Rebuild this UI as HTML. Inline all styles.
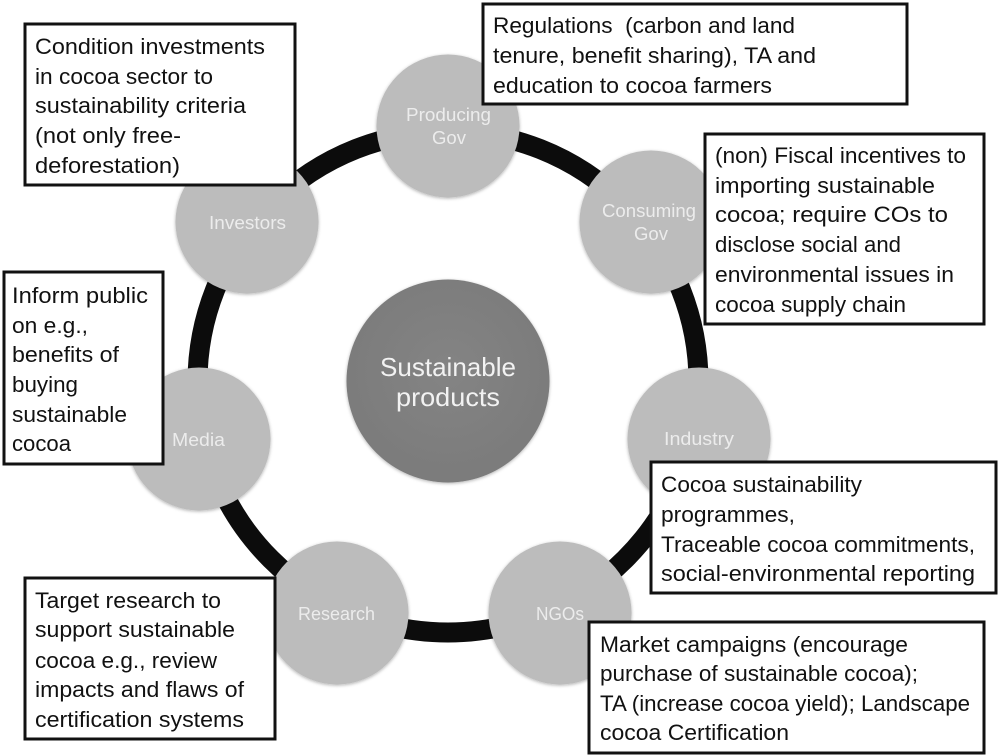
<!DOCTYPE html>
<html><head><meta charset="utf-8"><style>html,body{margin:0;padding:0;background:#fff}svg{display:block}text{font-family:"Liberation Sans",sans-serif}</style></head><body>
<svg width="1000" height="756" viewBox="0 0 1000 756" xmlns="http://www.w3.org/2000/svg">
<defs>
<filter id="s" x="-10%" y="-10%" width="120%" height="120%"><feDropShadow dx="0" dy="1" stdDeviation="1.5" flood-color="#000" flood-opacity=".3"/></filter>
<radialGradient id="g" cx="50%" cy="45%" r="55%"><stop offset="0" stop-color="#848484"/><stop offset="1" stop-color="#7b7b7b"/></radialGradient>
</defs>
<circle cx="448" cy="382" r="250.5" fill="none" stroke="#0c0c0c" stroke-width="20"/>
<g fill="#bcbcbc" filter="url(#s)">
<circle cx="448" cy="126" r="71.5"/><circle cx="651" cy="222" r="71.5"/><circle cx="699" cy="439" r="71.5"/><circle cx="560" cy="613" r="71.5"/><circle cx="337" cy="613" r="71.5"/><circle cx="199" cy="439" r="71.5"/><circle cx="247" cy="222" r="71.5"/>
</g>
<circle cx="448" cy="381" r="101.5" fill="url(#g)" filter="url(#s)"/>
<g fill="#ececec" font-size="18">
<text x="406" y="121" textLength="85" lengthAdjust="spacingAndGlyphs">Producing</text>
<text x="432" y="144" textLength="34" lengthAdjust="spacingAndGlyphs">Gov</text>
<text x="209" y="229" textLength="77" lengthAdjust="spacingAndGlyphs">Investors</text>
<text x="602" y="217" textLength="94" lengthAdjust="spacingAndGlyphs">Consuming</text>
<text x="634" y="240" textLength="34" lengthAdjust="spacingAndGlyphs">Gov</text>
<text x="664" y="445" textLength="70" lengthAdjust="spacingAndGlyphs">Industry</text>
<text x="536" y="620" textLength="48" lengthAdjust="spacingAndGlyphs">NGOs</text>
<text x="298" y="620" textLength="77" lengthAdjust="spacingAndGlyphs">Research</text>
<text x="172" y="446" textLength="53" lengthAdjust="spacingAndGlyphs">Media</text>
</g>
<g fill="#f2f2f2" font-size="26">
<text x="380" y="376" textLength="136" lengthAdjust="spacingAndGlyphs">Sustainable</text>
<text x="396" y="406" textLength="104" lengthAdjust="spacingAndGlyphs">products</text>
</g>
<g fill="#fff" stroke="#111" stroke-width="3">
<rect x="25" y="24" width="270" height="161"/>
<rect x="483" y="4" width="424" height="100"/>
<rect x="705" y="134" width="279" height="190"/>
<rect x="4" y="272" width="159" height="192"/>
<rect x="651" y="462" width="345" height="131"/>
<rect x="589" y="622" width="395" height="131"/>
<rect x="25" y="578" width="250" height="161"/>
</g>
<g fill="#111" font-size="22">
<text x="35" y="54" textLength="230" lengthAdjust="spacingAndGlyphs">Condition investments</text>
<text x="35" y="84" textLength="178" lengthAdjust="spacingAndGlyphs">in cocoa sector to</text>
<text x="35" y="113" textLength="211" lengthAdjust="spacingAndGlyphs">sustainability criteria</text>
<text x="35" y="143" textLength="146" lengthAdjust="spacingAndGlyphs">(not only free-</text>
<text x="35" y="173" textLength="145" lengthAdjust="spacingAndGlyphs">deforestation)</text>

<text x="493" y="33" textLength="302" lengthAdjust="spacingAndGlyphs" xml:space="preserve">Regulations  (carbon and land</text>
<text x="493" y="63" textLength="323" lengthAdjust="spacingAndGlyphs">tenure, benefit sharing), TA and</text>
<text x="493" y="93" textLength="279" lengthAdjust="spacingAndGlyphs">education to cocoa farmers</text>

<text x="715" y="163" textLength="251" lengthAdjust="spacingAndGlyphs">(non) Fiscal incentives to</text>
<text x="715" y="193" textLength="220" lengthAdjust="spacingAndGlyphs">importing sustainable</text>
<text x="715" y="222" textLength="233" lengthAdjust="spacingAndGlyphs">cocoa; require COs to</text>
<text x="715" y="252" textLength="186" lengthAdjust="spacingAndGlyphs">disclose social and</text>
<text x="715" y="282" textLength="239" lengthAdjust="spacingAndGlyphs">environmental issues in</text>
<text x="715" y="312" textLength="191" lengthAdjust="spacingAndGlyphs">cocoa supply chain</text>

<text x="12" y="303" textLength="136" lengthAdjust="spacingAndGlyphs">Inform public</text>
<text x="12" y="333" textLength="76" lengthAdjust="spacingAndGlyphs">on e.g.,</text>
<text x="12" y="362" textLength="107" lengthAdjust="spacingAndGlyphs">benefits of</text>
<text x="12" y="392" textLength="66" lengthAdjust="spacingAndGlyphs">buying</text>
<text x="12" y="422" textLength="115" lengthAdjust="spacingAndGlyphs">sustainable</text>
<text x="12" y="451" textLength="59" lengthAdjust="spacingAndGlyphs">cocoa</text>

<text x="661" y="492" textLength="201" lengthAdjust="spacingAndGlyphs">Cocoa sustainability</text>
<text x="661" y="522" textLength="134" lengthAdjust="spacingAndGlyphs">programmes,</text>
<text x="661" y="552" textLength="314" lengthAdjust="spacingAndGlyphs">Traceable cocoa commitments,</text>
<text x="661" y="581" textLength="314" lengthAdjust="spacingAndGlyphs">social-environmental reporting</text>

<text x="600" y="652" textLength="308" lengthAdjust="spacingAndGlyphs">Market campaigns (encourage</text>
<text x="600" y="681" textLength="318" lengthAdjust="spacingAndGlyphs">purchase of sustainable cocoa);</text>
<text x="600" y="711" textLength="370" lengthAdjust="spacingAndGlyphs">TA (increase cocoa yield); Landscape</text>
<text x="600" y="740" textLength="189" lengthAdjust="spacingAndGlyphs">cocoa Certification</text>

<text x="35" y="608" textLength="186" lengthAdjust="spacingAndGlyphs">Target research to</text>
<text x="35" y="637" textLength="200" lengthAdjust="spacingAndGlyphs">support sustainable</text>
<text x="35" y="668" textLength="182" lengthAdjust="spacingAndGlyphs">cocoa e.g., review</text>
<text x="35" y="697" textLength="209" lengthAdjust="spacingAndGlyphs">impacts and flaws of</text>
<text x="35" y="727" textLength="209" lengthAdjust="spacingAndGlyphs">certification systems</text>
</g>
</svg>
</body></html>
